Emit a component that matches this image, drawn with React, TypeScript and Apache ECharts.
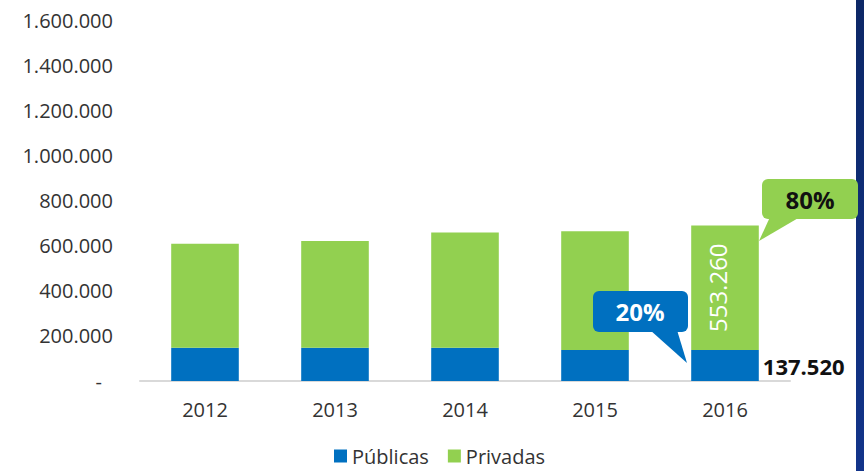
import React, { useEffect, useRef } from "react";
import * as echarts from "echarts";

const years = ["2012", "2013", "2014", "2015", "2016"];
const publicas = [148000, 148000, 148000, 137520, 137520];
const privadas = [462000, 474000, 512000, 527000, 553260];
const yTicks = { min: 0, max: 1600000, interval: 200000 };
const calloutPrivada = "80%";
const calloutPublica = "20%";

const BLUE = "#0070C0";
const GREEN = "#92D050";
const FONT = "'Open Sans', 'Noto Sans', sans-serif";

const fmt = (v: number) => String(Math.round(v)).replace(/\B(?=(\d{3})+(?!\d))/g, ".");

export default function App() {
  const ref = useRef<HTMLDivElement>(null);
  useEffect(() => {
    if (!ref.current) return;
    const chart = echarts.init(ref.current, undefined, { renderer: "svg" });
    const last = years.length - 1;
    const Z = 100;
    chart.setOption({
      animation: false,
      backgroundColor: "#ffffff",
      textStyle: { fontFamily: FONT },
      grid: { left: 140, right: 74, top: 20.7, bottom: 90, containLabel: false },
      legend: {
        show: true,
        left: 334,
        top: 446,
        padding: 0,
        itemWidth: 13,
        itemHeight: 13,
        itemGap: 19,
        icon: "rect",
        textStyle: { fontFamily: FONT, fontSize: 20, lineHeight: 20, color: "#333" },
        data: ["Públicas", "Privadas"],
      },
      xAxis: {
        type: "category",
        data: years,
        axisLine: { show: true, lineStyle: { color: "#d9d9d9", width: 2 } },
        axisTick: { show: false },
        axisLabel: { fontFamily: FONT, fontSize: 20, color: "#333", margin: 18 },
      },
      yAxis: {
        type: "value",
        min: yTicks.min,
        max: yTicks.max,
        interval: yTicks.interval,
        axisLine: { show: false },
        axisTick: { show: false },
        splitLine: { show: false },
        axisLabel: {
          fontFamily: FONT,
          fontSize: 20,
          color: "#333",
          margin: 27,
          formatter: (v: number) => (v === 0 ? "{d|-}" : fmt(v)),
          rich: { d: { fontFamily: FONT, fontSize: 20, color: "#333", padding: [0, 11, 0, 0] } },
        },
      },
      series: [
        {
          name: "Públicas",
          type: "bar",
          stack: "total",
          barWidth: "52%",
          itemStyle: { color: BLUE },
          data: publicas.map((v, i) =>
            i === last
              ? {
                  value: v,
                  label: {
                    show: true,
                    position: "right",
                    distance: 4,
                    fontFamily: FONT,
                    fontSize: 22,
                    fontWeight: "bold",
                    color: "#111",
                    formatter: (p: any) => fmt(p.value),
                  },
                }
              : v
          ),
        },
        {
          name: "Privadas",
          type: "bar",
          stack: "total",
          barWidth: "52%",
          itemStyle: { color: GREEN },
          data: privadas.map((v, i) =>
            i === last
              ? {
                  value: v,
                  label: {
                    show: true,
                    position: "inside",
                    rotate: 90,
                    offset: [0, -8],
                    fontFamily: FONT,
                    fontSize: 24,
                    color: "#ffffff",
                    formatter: (p: any) => fmt(p.value),
                  },
                }
              : v
          ),
        },
      ],
      graphic: [
        {
          type: "rect",
          shape: { x: 856, y: 0, width: 8, height: 471 },
          style: {
            fill: new echarts.graphic.LinearGradient(0, 0, 0, 1, [
              { offset: 0, color: "#0c2766" },
              { offset: 1, color: "#12348a" },
            ]),
          },
          z: Z,
        },
        { type: "rect", z: Z, shape: { x: 762, y: 179, width: 96, height: 40, r: 6 }, style: { fill: GREEN } },
        { type: "polygon", z: Z, shape: { points: [[770, 217], [800, 217], [759, 241]] }, style: { fill: GREEN } },
        {
          type: "text",
          z: Z + 1,
          x: 810,
          y: 199,
          style: {
            text: calloutPrivada,
            fill: "#111",
            font: `bold 24px ${FONT}`,
            align: "center",
            verticalAlign: "middle",
          },
        },
        { type: "rect", z: Z, shape: { x: 593, y: 291, width: 95, height: 41, r: 6 }, style: { fill: BLUE } },
        { type: "polygon", z: Z, shape: { points: [[650, 330], [677, 330], [687, 363]] }, style: { fill: BLUE } },
        {
          type: "text",
          z: Z + 1,
          x: 640,
          y: 311,
          style: {
            text: calloutPublica,
            fill: "#ffffff",
            font: `bold 24px ${FONT}`,
            align: "center",
            verticalAlign: "middle",
          },
        },
      ],
    });
    return () => chart.dispose();
  }, []);
  return (
    <div
      ref={ref}
      style={{ position: "fixed", left: 0, top: 0, width: 864, height: 471, background: "#fff" }}
    />
  );
}
